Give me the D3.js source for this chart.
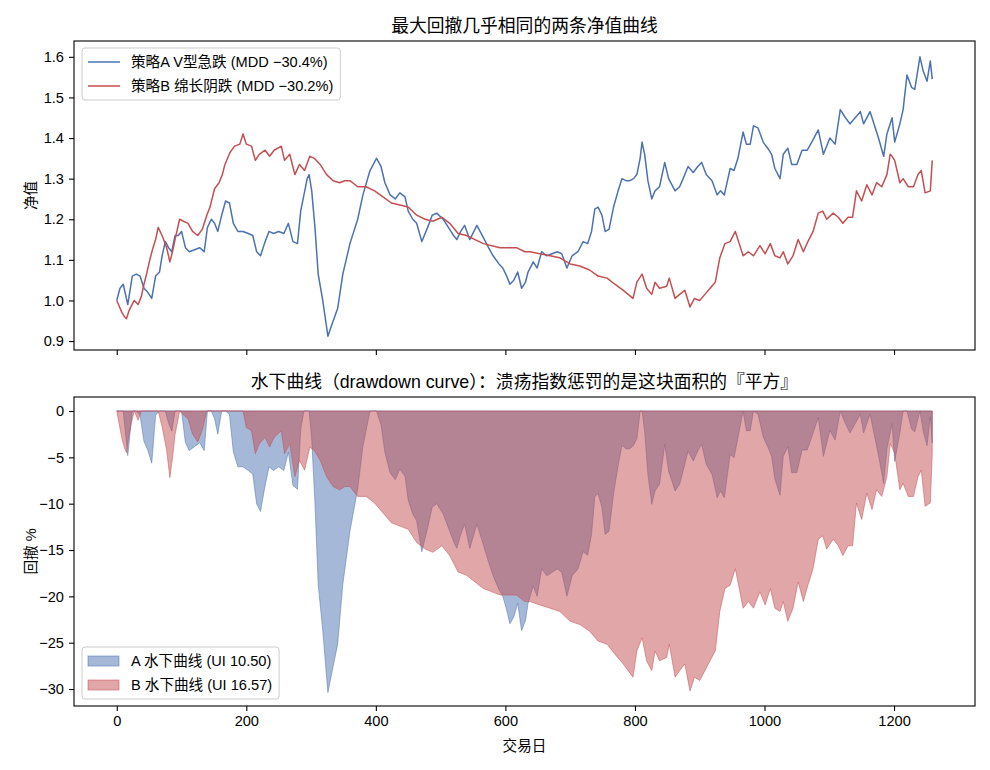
<!DOCTYPE html>
<html><head><meta charset="utf-8">
<script src="https://cdn.jsdelivr.net/npm/d3@7"></script>
<style>body{margin:0;background:#fff} text{font-family:"Liberation Sans","Noto Sans CJK SC",sans-serif;fill:#000}</style>
</head><body><svg id="c" width="990" height="770"></svg>
<script>
// ---- data ----
const daysA=[0,5,10,17,24,30,36,42,48,54,60,66,70,75,80,85,90,95,100,106,112,120,128,135,140,146,151,156,162,168,174,180,187,195,203,210,216,222,228,235,242,250,258,265,272,279,284,289,294,297,301,306,311,318,326,332,341,349,360,372,380,391,401,408,414,422,430,437,445,450,457,463,471,480,487,494,504,514,520,525,531,537,545,556,566,574,581,590,596,602,607,613,619,625,631,635,643,649,656,664,672,680,687,695,703,712,720,727,733,738,743,749,754,760,767,774,780,786,792,798,803,808,811,815,820,826,831,838,846,852,862,869,877,882,890,897,903,910,919,927,932,938,947,953,959,967,972,978,983,990,998,1005,1011,1016,1024,1029,1036,1042,1050,1058,1066,1073,1083,1091,1101,1109,1117,1125,1132,1140,1148,1153,1163,1168,1176,1184,1189,1197,1201,1209,1214,1220,1227,1232,1240,1245,1251,1256,1259];
const navA=[1.00,1.03,1.04,0.99,1.06,1.065,1.06,1.03,1.02,1.005,1.06,1.07,1.11,1.145,1.13,1.12,1.16,1.16,1.17,1.13,1.12,1.125,1.13,1.12,1.18,1.20,1.19,1.17,1.21,1.245,1.24,1.19,1.17,1.17,1.165,1.16,1.12,1.11,1.14,1.17,1.165,1.17,1.165,1.19,1.145,1.14,1.22,1.26,1.30,1.31,1.27,1.18,1.065,1.00,0.912,0.94,0.98,1.065,1.14,1.20,1.26,1.32,1.35,1.33,1.29,1.26,1.25,1.265,1.255,1.22,1.20,1.19,1.145,1.18,1.21,1.215,1.20,1.175,1.16,1.15,1.17,1.185,1.15,1.185,1.155,1.13,1.11,1.09,1.08,1.06,1.04,1.05,1.07,1.03,1.045,1.07,1.095,1.08,1.12,1.11,1.115,1.12,1.115,1.08,1.11,1.12,1.145,1.14,1.17,1.225,1.23,1.21,1.17,1.175,1.23,1.27,1.30,1.295,1.295,1.30,1.31,1.35,1.39,1.36,1.295,1.25,1.27,1.28,1.34,1.30,1.27,1.28,1.31,1.33,1.315,1.33,1.34,1.31,1.295,1.26,1.27,1.26,1.325,1.32,1.35,1.415,1.385,1.385,1.43,1.425,1.39,1.375,1.36,1.325,1.30,1.36,1.375,1.335,1.335,1.37,1.37,1.39,1.42,1.36,1.40,1.385,1.47,1.45,1.435,1.45,1.465,1.435,1.465,1.44,1.40,1.355,1.41,1.45,1.39,1.435,1.47,1.555,1.525,1.52,1.60,1.565,1.54,1.59,1.545];
const daysB=[0,4,8,12,15,19,22,27,33,38,42,46,51,56,60,64,70,77,82,86,90,97,103,110,117,125,132,139,144,151,158,163,167,175,182,190,195,200,208,214,220,229,236,243,254,259,267,275,282,290,298,305,314,324,334,344,352,360,372,385,398,411,424,437,450,463,476,488,502,514,527,540,553,566,579,592,604,617,630,638,653,669,684,700,715,730,743,757,769,782,797,803,811,818,826,831,838,849,853,862,869,877,885,892,900,908,916,924,931,939,947,955,961,967,975,983,993,1001,1009,1016,1024,1029,1036,1044,1052,1060,1067,1075,1083,1090,1096,1106,1114,1121,1129,1136,1142,1150,1158,1166,1173,1181,1189,1194,1197,1201,1209,1214,1222,1230,1237,1242,1248,1256,1259];
const navB=[1.00,0.985,0.97,0.96,0.955,0.975,0.985,1.00,0.99,1.01,1.04,1.065,1.10,1.13,1.15,1.18,1.16,1.13,1.095,1.12,1.15,1.20,1.195,1.19,1.17,1.16,1.175,1.21,1.23,1.275,1.29,1.31,1.335,1.365,1.38,1.385,1.41,1.385,1.38,1.345,1.36,1.37,1.355,1.37,1.38,1.345,1.36,1.31,1.335,1.32,1.355,1.35,1.335,1.31,1.295,1.29,1.295,1.295,1.28,1.28,1.27,1.255,1.24,1.235,1.23,1.21,1.20,1.195,1.205,1.19,1.165,1.16,1.15,1.14,1.135,1.13,1.13,1.13,1.12,1.12,1.115,1.11,1.105,1.09,1.085,1.075,1.06,1.055,1.04,1.025,1.005,1.045,1.065,1.03,1.015,1.045,1.03,1.035,1.055,1.005,1.015,1.025,0.984,1.005,1.00,1.015,1.03,1.045,1.105,1.14,1.145,1.17,1.14,1.11,1.12,1.11,1.135,1.115,1.14,1.11,1.105,1.12,1.09,1.11,1.15,1.12,1.145,1.17,1.215,1.22,1.20,1.215,1.205,1.19,1.205,1.205,1.27,1.245,1.285,1.26,1.29,1.28,1.31,1.36,1.355,1.345,1.29,1.30,1.28,1.28,1.31,1.32,1.265,1.27,1.345];
const xTicks=[0,200,400,600,800,1000,1200];
const yTicksTop=[0.9,1.0,1.1,1.2,1.3,1.4,1.5,1.6];
const yTicksBot=[0,-5,-10,-15,-20,-25,-30];
const labelsTop=["策略A V型急跌 (MDD −30.4%)","策略B 绵长阴跌 (MDD −30.2%)"];
const labelsBot=["A 水下曲线 (UI 10.50)","B 水下曲线 (UI 16.57)"];
const titleTop="最大回撤几乎相同的两条净值曲线";
const titleBot="水下曲线（drawdown curve）：溃疡指数惩罚的是这块面积的『平方』";

const colA="#4C72B0", colB="#C44E52";
const FS=14.6, FT=17.8;
const svg=d3.select("#c");
const L=74,R=975, T1=41,B1=350, T2=397,B2=706;

const x=d3.scaleLinear().domain([-66,1325]).range([L,R]);
const y1=d3.scaleLinear().domain([0.878,1.639]).range([B1,T1]);
const y2=d3.scaleLinear().domain([-31.83,1.51]).range([B2,T2]);

function drawdown(v){let m=-Infinity;return v.map(d=>{m=Math.max(m,d);return (d/m-1)*100;});}
const ddA=drawdown(navA), ddB=drawdown(navB);

const defs=svg.append("defs");
defs.append("clipPath").attr("id","cp1").append("rect").attr("x",L).attr("y",T1).attr("width",R-L).attr("height",B1-T1);
defs.append("clipPath").attr("id","cp2").append("rect").attr("x",L).attr("y",T2).attr("width",R-L).attr("height",B2-T2);

const g1=svg.append("g").attr("clip-path","url(#cp1)");
const line=d3.line().x(d=>x(d[0])).y(d=>y1(d[1]));
g1.append("path").datum(daysA.map((d,i)=>[d,navA[i]])).attr("d",line).attr("fill","none").attr("stroke",colA).attr("stroke-width",1.5).attr("stroke-linejoin","round");
g1.append("path").datum(daysB.map((d,i)=>[d,navB[i]])).attr("d",line).attr("fill","none").attr("stroke",colB).attr("stroke-width",1.5).attr("stroke-linejoin","round");

const g2=svg.append("g").attr("clip-path","url(#cp2)");
const area=d3.area().x(d=>x(d[0])).y0(y2(0)).y1(d=>y2(d[1]));
g2.append("path").datum(daysA.map((d,i)=>[d,ddA[i]])).attr("d",area).attr("fill",colA).attr("fill-opacity",0.5).attr("stroke",colA).attr("stroke-opacity",0.5).attr("stroke-width",1);
g2.append("path").datum(daysB.map((d,i)=>[d,ddB[i]])).attr("d",area).attr("fill",colB).attr("fill-opacity",0.5).attr("stroke",colB).attr("stroke-opacity",0.5).attr("stroke-width",1);

function styleAxis(g){g.selectAll("path.domain").remove();g.selectAll("line").attr("stroke","#000").attr("stroke-width",1.1);g.selectAll("text").attr("font-size",FS).attr("fill","#000").style("font-family",'"Liberation Sans","Noto Sans CJK SC",sans-serif');}
svg.append("g").attr("transform",`translate(0,${B1})`).call(d3.axisBottom(x).tickValues(xTicks).tickSize(5).tickFormat("")).call(styleAxis);
svg.append("g").attr("transform",`translate(0,${B2})`).call(d3.axisBottom(x).tickValues(xTicks).tickSize(5).tickPadding(4.5).tickFormat(d3.format("d"))).call(styleAxis);
svg.append("g").attr("transform",`translate(${L},0)`).call(d3.axisLeft(y1).tickValues(yTicksTop).tickSize(5).tickPadding(5).tickFormat(d3.format(".1f"))).call(styleAxis);
svg.append("g").attr("transform",`translate(${L},0)`).call(d3.axisLeft(y2).tickValues(yTicksBot).tickSize(5).tickPadding(5).tickFormat(d3.format("d"))).call(styleAxis);

[[T1,B1],[T2,B2]].forEach(([t,b])=>svg.append("rect").attr("x",L).attr("y",t).attr("width",R-L).attr("height",b-t).attr("fill","none").attr("stroke","#000").attr("stroke-width",1.1));

svg.append("text").attr("x",(L+R)/2).attr("y",T1-9).attr("text-anchor","middle").attr("font-size",FT).text(titleTop);
svg.append("text").attr("x",(L+R)/2).attr("y",T2-9).attr("text-anchor","middle").attr("font-size",FT).text(titleBot);
svg.append("text").attr("transform",`translate(36,${(T1+B1)/2}) rotate(-90)`).attr("text-anchor","middle").attr("font-size",FS).text("净值");
svg.append("text").attr("transform",`translate(36,${(T2+B2)/2}) rotate(-90)`).attr("text-anchor","middle").attr("font-size",FS).text("回撤 %");
svg.append("text").attr("x",(L+R)/2).attr("y",751).attr("text-anchor","middle").attr("font-size",FS).text("交易日");

function legend(x0,y0,labels,cols,kind){
  const g=svg.append("g");
  const box=g.append("rect");
  let maxw=0;
  labels.forEach((lab,i)=>{
    const cy=y0+14+i*24;
    if(kind==="line") g.append("line").attr("x1",x0+6).attr("x2",x0+38).attr("y1",cy).attr("y2",cy).attr("stroke",cols[i]).attr("stroke-width",1.5);
    else g.append("rect").attr("x",x0+6).attr("y",cy-5).attr("width",31).attr("height",10).attr("fill",cols[i]).attr("fill-opacity",0.5).attr("stroke",cols[i]).attr("stroke-opacity",0.5);
    const t=g.append("text").attr("x",x0+49).attr("y",cy+5).attr("font-size",FS).text(lab);
    maxw=Math.max(maxw,t.node().getComputedTextLength());
  });
  box.attr("x",x0).attr("y",y0).attr("width",49+maxw+7).attr("height",52).attr("rx",3).attr("fill","#fff").attr("fill-opacity",0.8).attr("stroke","#ccc").attr("stroke-width",1);
}
legend(82,48,labelsTop,[colA,colB],"line");
legend(82,647,labelsBot,[colA,colB],"patch");
</script></body></html>
